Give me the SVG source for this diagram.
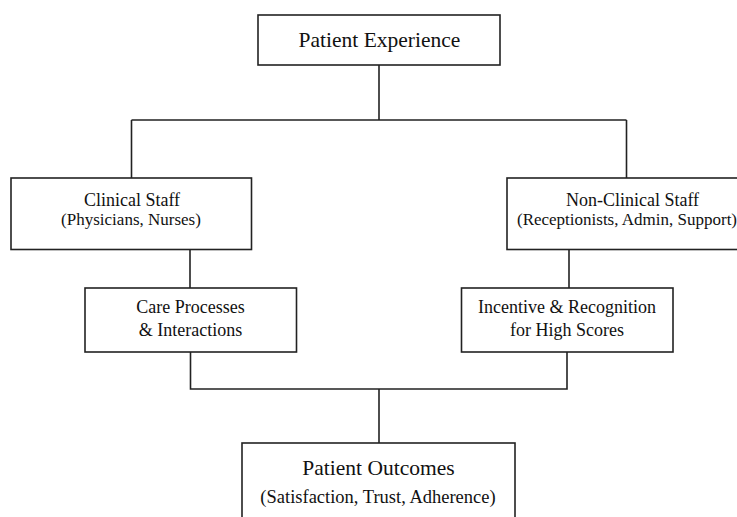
<svg xmlns="http://www.w3.org/2000/svg" width="737" height="517" viewBox="0 0 737 517">
<style>
.box{fill:#fff;stroke:#222;stroke-width:1.6}
.conn{fill:none;stroke:#222;stroke-width:1.6}
text{font-family:"Liberation Serif","Times New Roman",serif;fill:#111;text-anchor:middle}
.t{font-size:18px}
.s{font-size:17px}
.big{font-size:21.5px}
.sub2{font-size:18.5px}
</style>
<rect width="737" height="517" fill="#fff"/>
<g id="connectors">
<path class="conn" d="M379 65 V120 M131.5 120 H626.5 M131.5 120 V178 M626.5 120 V178"/>
<path class="conn" d="M190 249.5 V288 M569 249.5 V288"/>
<path class="conn" d="M190.5 352 V389 H567 V352 M379 389 V443"/>
</g>
<g id="patient-experience">
<rect class="box" x="258" y="15" width="242" height="50"/>
<text class="big" x="379.5" y="47">Patient Experience</text>
</g>
<g id="clinical-staff">
<rect class="box" x="11" y="178" width="240.5" height="71.5"/>
<text class="t" x="132" y="205.5">Clinical Staff</text>
<text class="s" x="131" y="225">(Physicians, Nurses)</text>
</g>
<g id="non-clinical-staff">
<rect class="box" x="507" y="178" width="250" height="71.5"/>
<text class="t" x="632.5" y="205.5">Non-Clinical Staff</text>
<text class="s" x="627" y="225">(Receptionists, Admin, Support)</text>
</g>
<g id="care-processes">
<rect class="box" x="85" y="288" width="211.5" height="64"/>
<text class="t" x="190.5" y="313">Care Processes</text>
<text class="t" x="190.5" y="335.5">&amp; Interactions</text>
</g>
<g id="incentive">
<rect class="box" x="461.5" y="288" width="211.5" height="64"/>
<text class="t" x="567" y="313">Incentive &amp; Recognition</text>
<text class="t" x="567" y="335.5">for High Scores</text>
</g>
<g id="patient-outcomes">
<rect class="box" x="242" y="443" width="273" height="90"/>
<text class="big" x="378.5" y="475">Patient Outcomes</text>
<text class="sub2" x="378" y="502.5">(Satisfaction, Trust, Adherence)</text>
</g>
</svg>
